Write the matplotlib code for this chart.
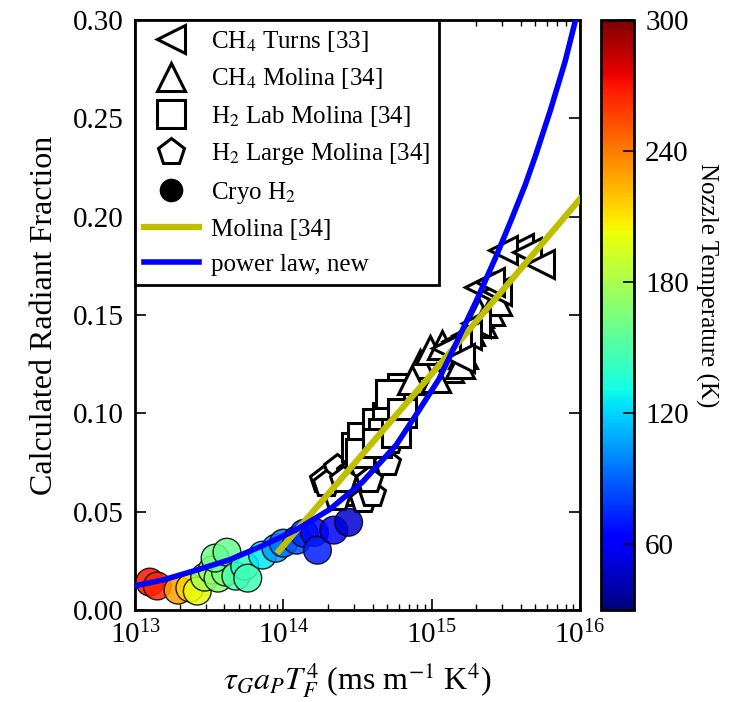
import matplotlib
matplotlib.use("Agg")
import matplotlib.pyplot as plt
from matplotlib.lines import Line2D
from matplotlib.ticker import FormatStrFormatter, LogLocator
import numpy as np

plt.rcParams['font.family'] = ['Liberation Serif', 'DejaVu Serif']
plt.rcParams['mathtext.fontset'] = 'stix'

# CH4 Turns [33]  (x in ms m^-1 K^4, radiant fraction)
turns_x = [10**15.59, 10**15.48, 10**15.64, 10**15.32, 10**15.44, 10**15.39,
           10**15.30, 10**15.24, 10**15.17, 10**15.10, 10**15.19, 10**15.73]
turns_y = [0.184, 0.183, 0.182, 0.164, 0.162, 0.167,
           0.146, 0.140, 0.137, 0.133, 0.128, 0.176]

# CH4 Molina [34]
ch4_mol_x = [10**14.92, 10**14.99, 10**15.07, 10**15.12, 10**15.21, 10**15.26,
             10**15.32, 10**15.39, 10**15.44, 10**14.87, 10**15.03, 10**15.19,
             10**15.34]
ch4_mol_y = [0.125, 0.132, 0.135, 0.123, 0.130, 0.142,
             0.151, 0.152, 0.157, 0.117, 0.118, 0.125,
             0.146]

# H2 Lab Molina [34]
h2_lab_x = [10**14.49, 10**14.53, 10**14.63, 10**14.74, 10**14.76, 10**14.70,
            10**14.80, 10**14.67, 10**14.52, 10**14.72, 10**14.63, 10**14.80,
            10**14.76]
h2_lab_y = [0.083, 0.088, 0.095, 0.103, 0.108, 0.098,
            0.113, 0.090, 0.080, 0.110, 0.085, 0.100,
            0.090]

# H2 Large Molina [34]
h2_large_x = [10**14.27, 10**14.36, 10**14.45, 10**14.54, 10**14.63, 10**14.70,
              10**14.54, 10**14.45, 10**14.36, 10**14.29, 10**14.54, 10**14.60,
              10**14.40, 10**14.58, 10**14.72]
h2_large_y = [0.066, 0.072, 0.070, 0.072, 0.080, 0.075,
              0.062, 0.059, 0.057, 0.064, 0.056, 0.059,
              0.066, 0.066, 0.086]

# Cryo H2 with nozzle temperature (K)
cryo_x = [10**13.10, 10**13.15, 10**13.29, 10**13.37, 10**13.42, 10**13.47,
          10**13.52, 10**13.56, 10**13.61, 10**13.54, 10**13.62, 10**13.68,
          10**13.74, 10**13.76, 10**13.86, 10**13.95, 10**14.00, 10**14.09,
          10**14.14, 10**14.21, 10**14.23, 10**14.34, 10**14.44]
cryo_y = [0.0142, 0.0122, 0.0101, 0.0112, 0.0096, 0.0167,
          0.0203, 0.0162, 0.0193, 0.0264, 0.0294, 0.0172,
          0.0223, 0.0162, 0.0279, 0.0314, 0.0340, 0.0355,
          0.0390, 0.0395, 0.0304, 0.0406, 0.0446]
cryo_T = [270, 265, 230, 215, 200, 180,
          175, 170, 165, 160, 158, 150,
          140, 145, 125, 105, 95, 85,
          75, 65, 72, 62, 50]

# Molina [34] correlation
molina_x = [10**13.97, 1e15, 1e16]
molina_y = [0.030, 0.120, 0.209]

# power law, new
power_x = [10**13.0, 10**13.19, 10**13.42, 10**13.64, 10**13.86, 10**14.09,
           10**14.31, 10**14.53, 10**14.76, 10**14.91, 10**15.05, 10**15.18,
           10**15.30, 10**15.43, 10**15.54, 10**15.63, 10**15.70, 10**15.80,
           10**15.90, 10**15.97]
power_y = [0.0123, 0.0153, 0.0204, 0.0256, 0.0327, 0.0409,
           0.051, 0.0648, 0.0838, 0.101, 0.1175, 0.138,
           0.157, 0.179, 0.199, 0.216, 0.231, 0.254,
           0.279, 0.300]

yellow = (0.75, 0.75, 0)

fig = plt.figure(figsize=(7.49, 7.02), dpi=100)
ax = fig.add_axes([135/749, 1 - 610/702, 445/749, 590/702])
cax = fig.add_axes([601/749, 1 - 610/702, 33/749, 590/702])

open_style = dict(linestyle='none', markerfacecolor='white',
                  markeredgecolor='black', markeredgewidth=2.2, markersize=20)
ax.plot(h2_large_x, h2_large_y, marker='p', **open_style)
ax.plot(h2_lab_x, h2_lab_y, marker='s', **open_style)
ax.plot(ch4_mol_x, ch4_mol_y, marker='^', **open_style)
ax.plot(turns_x, turns_y, marker='<', **open_style)

sc = ax.scatter(cryo_x, cryo_y, c=cryo_T, cmap='jet', vmin=30, vmax=300,
                s=400, edgecolors=(0, 0, 0, 0.5), linewidths=1, alpha=0.85,
                zorder=3)

ax.plot(molina_x, molina_y, color=yellow, lw=4.5, zorder=4)
ax.plot(power_x, power_y, color='blue', lw=4, zorder=5)

ax.set_xscale('log')
ax.set_xlim(1e13, 1e16)
ax.set_ylim(0, 0.30)
ax.set_yticks([0, 0.05, 0.10, 0.15, 0.20, 0.25, 0.30])
ax.yaxis.set_major_formatter(FormatStrFormatter('%.2f'))
ax.xaxis.set_major_locator(LogLocator(base=10, numticks=5))
ax.tick_params(which='both', direction='in', top=True, right=True)
ax.tick_params(which='major', length=8, width=1.2, labelsize=21, pad=8)
ax.tick_params(which='minor', length=4, width=1)
for s in ax.spines.values():
    s.set_linewidth(2)

ax.set_ylabel('Calculated Radiant Fraction', fontsize=23, labelpad=10)
ax.set_xlabel(r'$\tau_G a_P T_F^4$ (ms m$^{-1}$ K$^4$)', fontsize=23,
              labelpad=8)

handles = [
    Line2D([], [], marker='<', **open_style),
    Line2D([], [], marker='^', **open_style),
    Line2D([], [], marker='s', **open_style),
    Line2D([], [], marker='p', **open_style),
    Line2D([], [], marker='o', linestyle='none', color='black', markersize=16),
    Line2D([], [], color=yellow, lw=4.5),
    Line2D([], [], color='blue', lw=4),
]
labels = [r'CH$_4$ Turns [33]', r'CH$_4$ Molina [34]', r'H$_2$ Lab Molina [34]',
          r'H$_2$ Large Molina [34]', r'Cryo H$_2$', 'Molina [34]',
          'power law, new']
leg = ax.legend(handles, labels, loc='upper left', fontsize=18,
                borderaxespad=0, fancybox=False, framealpha=1,
                edgecolor='black', handlelength=2.2, labelspacing=0.5,
                borderpad=0.35, handletextpad=0.5)
leg.get_frame().set_linewidth(2)
leg.set_zorder(10)

cb = fig.colorbar(sc, cax=cax)
cb.solids.set_alpha(1)
cb.set_ticks([60, 120, 180, 240, 300])
cb.ax.tick_params(direction='in', length=8, width=1.2, labelsize=21, pad=8)
cb.outline.set_linewidth(2)
cb.set_label('Nozzle Temperature (K)', rotation=270, fontsize=18, labelpad=28)
cb.ax.yaxis.set_label_coords(3.55, 0.55)

fig.savefig('out.png', dpi=100)
